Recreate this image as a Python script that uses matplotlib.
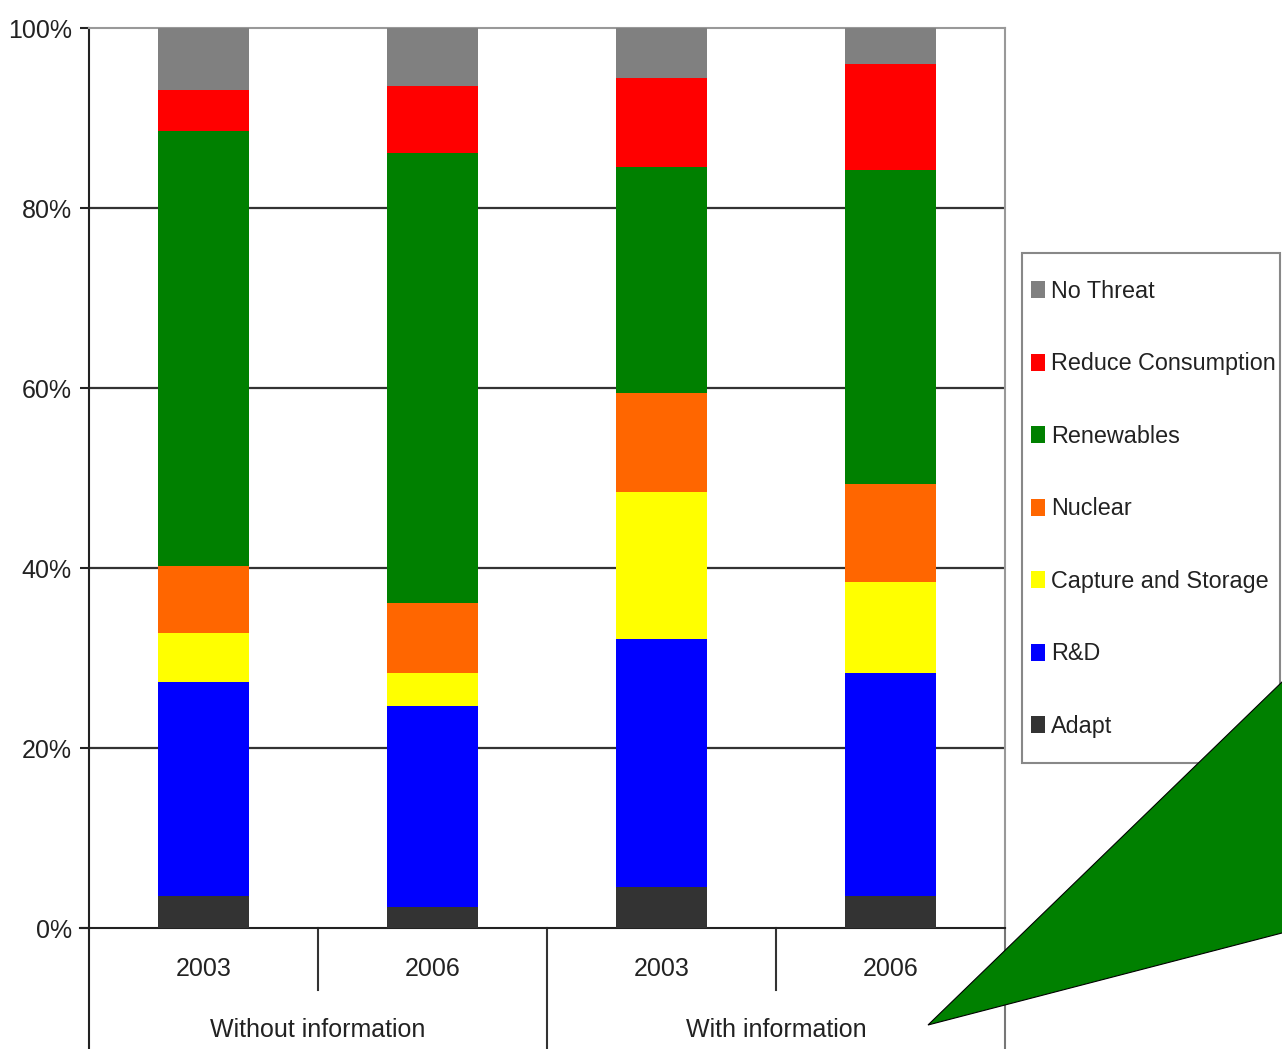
import matplotlib
matplotlib.use("Agg")
import numpy as np
import matplotlib.pyplot as plt
from matplotlib.patches import Polygon, Patch, Rectangle

plt.rcParams['font.family'] = ['Liberation Sans', 'DejaVu Sans']

# shares of each response (percent), bottom to top of the stack
years = ["2003", "2006", "2003", "2006"]
groups = ["Without information", "With information"]
series = ["Adapt", "R&D", "Capture and Storage", "Nuclear",
          "Renewables", "Reduce Consumption", "No Threat"]
adapt = [3.6, 2.3, 4.6, 3.6]
rnd = [23.7, 22.4, 27.5, 24.7]
capture = [5.5, 3.6, 16.4, 10.1]
nuclear = [7.4, 7.8, 10.9, 10.9]
renewables = [48.4, 50.0, 25.2, 34.9]
reduce = [4.5, 7.5, 9.8, 11.8]
no_threat = [6.9, 6.4, 5.6, 4.0]
colors = ["#333333", "#0000ff", "#ffff00", "#ff6600",
          "#008000", "#ff0000", "#808080"]

values = [adapt, rnd, capture, nuclear, renewables, reduce, no_threat]

W, H = 1282, 1049
FS = 18
LFS = 16.8
TXT = "#222222"

fig = plt.figure(figsize=(W / 100, H / 100), dpi=100)
ax = fig.add_axes([89 / W, 1 - 928 / H, (1005 - 89) / W, 900 / H])

x = np.arange(len(years))
bottom = np.zeros(len(years))
for vals, col in zip(values, colors):
    ax.bar(x, vals, width=0.4, bottom=bottom, color=col, linewidth=0, zorder=3)
    bottom += np.array(vals)

ax.set_xlim(-0.5, 3.5)
ax.set_ylim(0, 100)
ax.set_yticks(range(0, 101, 20))
ax.set_yticklabels([f"{v}%" for v in range(0, 101, 20)], fontsize=FS, color=TXT)
ax.tick_params(axis="y", length=6.5, width=1.5, color=TXT, pad=6)
ax.set_xticks([])
for v in range(20, 100, 20):
    ax.axhline(v, color="#333333", lw=1.6, zorder=1)

for side, c in [("left", TXT), ("bottom", TXT), ("top", "#999999"), ("right", "#999999")]:
    ax.spines[side].set_color(c)
    ax.spines[side].set_linewidth(1.5)

# two-level category axis below the plot
tr = ax.get_xaxis_transform()
ax.plot([-0.5 - 0.04, -0.5], [0, 0], color=TXT, lw=1.5, transform=tr, clip_on=False)
for xv, low, c in [(-0.5, -0.135, TXT), (1.5, -0.135, "#333333"),
                   (3.5, -0.135, "#777777"), (0.5, -0.069, "#333333"),
                   (2.5, -0.069, "#333333")]:
    ax.plot([xv, xv], [0, low], color=c, lw=1.5, transform=tr, clip_on=False)
for xi, yr in zip(x, years):
    ax.text(xi, -0.046, yr, transform=tr, ha="center", va="center",
            fontsize=FS, color=TXT)
for gi, g in enumerate(groups):
    ax.text(0.5 + 2 * gi, -0.113, g, transform=tr, ha="center", va="center",
            fontsize=FS, color=TXT)

# legend: entries without frame, box drawn separately
handles = [Patch(facecolor=c, edgecolor="none") for c in colors][::-1]
leg = fig.legend(handles, series[::-1], loc="upper left",
                 bbox_to_anchor=(1031 / W, 1 - 280 / H),
                 fontsize=LFS, frameon=False, borderpad=0,
                 labelspacing=2.12, handlelength=0.6, handleheight=0.76,
                 handletextpad=0.25, borderaxespad=0)
for t in leg.get_texts():
    t.set_color(TXT)
fig.patches.append(Rectangle((1022 / W, 1 - 763 / H), (1280 - 1022) / W,
                             (763 - 253) / H, transform=fig.transFigure,
                             facecolor="white", edgecolor="#888888", lw=1.5,
                             zorder=0))

# green callout pointer over the lower right corner
tri = Polygon([(928 / W, 1 - 1025 / H), (1.0, 1 - 682 / H),
               (1.02, 1 - 682 / H), (1.02, 1 - 933 / H), (1.0, 1 - 933 / H)],
              closed=True, transform=fig.transFigure, facecolor="#008000",
              edgecolor="black", lw=0.8, zorder=10)
fig.patches.append(tri)

fig.savefig("out.png", dpi=100)
